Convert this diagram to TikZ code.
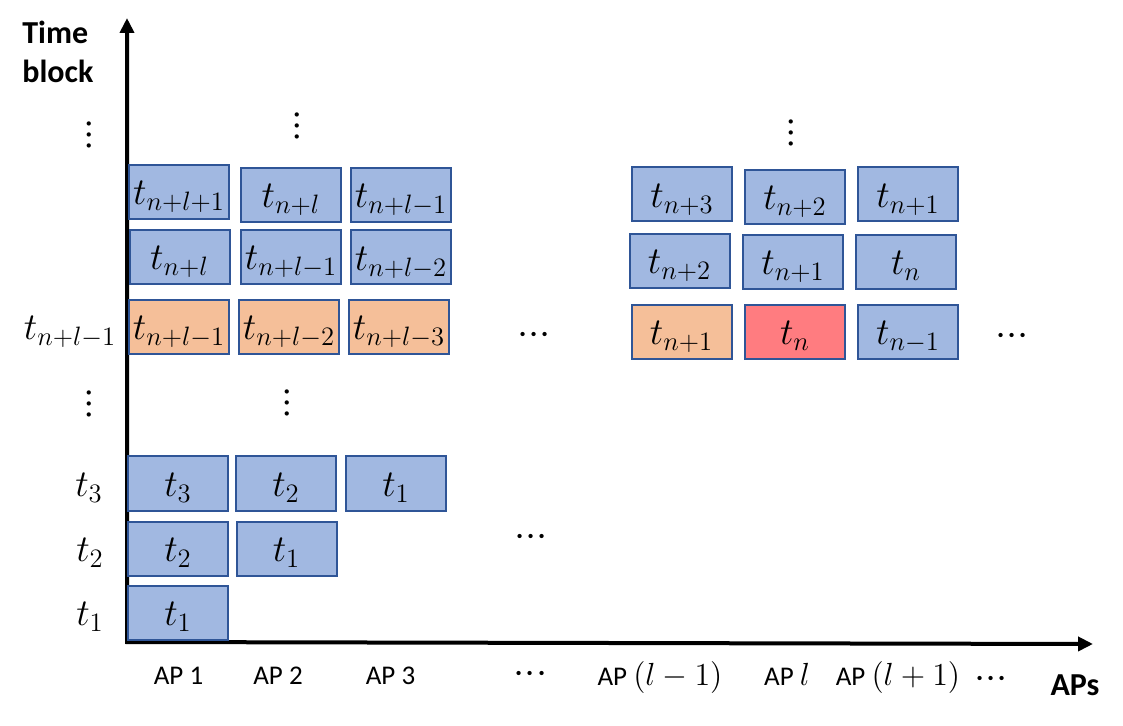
\RequirePackage{fix-cm}
\documentclass[tikz,border=0pt]{standalone}
\usepackage{fontspec}
\setmainfont{Carlito}
\usetikzlibrary{arrows.meta}

\definecolor{slotblue}{RGB}{161,184,225}
\definecolor{slotedge}{RGB}{47,85,151}
\definecolor{slotorange}{RGB}{245,191,153}
\definecolor{slotred}{RGB}{255,124,128}

\newcommand{\threedots}{${\cdot}{\cdot}{\cdot}$}
\newcommand{\apmath}[1]{{\fontsize{16}{18}\selectfont$#1$}}

\begin{document}
\begin{tikzpicture}[x=0.5pt, y=-0.5pt, >={Triangle[length=7.5pt, width=7pt]}]
    % Styles
    \tikzstyle{slot} = [rectangle, draw=slotedge, line width=1pt, fill=slotblue, minimum width=50pt, minimum height=27pt, inner sep=0pt, text height=13pt, text depth=0pt, font=\fontsize{19}{22}\selectfont]
    \tikzstyle{busy} = [slot, fill=slotorange]
    \tikzstyle{current} = [slot, fill=slotred]
    \tikzstyle{tlabel} = [inner sep=0pt, text height=13pt, text depth=0pt, font=\fontsize{19}{22}\selectfont]
    \tikzstyle{ellips} = [inner sep=0pt, font=\fontsize{20}{22}\selectfont]
    \tikzstyle{aplabel} = [anchor=base, inner sep=0pt, font=\fontsize{13.5}{16}\selectfont]
    \tikzstyle{axistitle} = [inner sep=0pt, font=\fontsize{16}{19.5}\selectfont\bfseries, align=left]
    \tikzstyle{axisline} = [draw, line width=2pt, <->]

    \useasboundingbox (0,0) rectangle (1123,726);

    % Axes
    \coordinate (origin) at (127,642);
    \coordinate (ytip) at (127,18);
    \coordinate (xtip) at (1093,644);
    \path [axisline] (ytip) -- (origin) -- (xtip);
    \node [axistitle, anchor=north west] (ytitle) at (22,21) {Time\\block};
    \node [axistitle, anchor=base] (xtitle) at (1075,695) {APs};

    % Time block labels
    \node [ellips, rotate=90] (vdots1) at (90,135) {\threedots};
    \node [tlabel] (lblcur) at (70,327) {$t_{n+l-1}$};
    \node [ellips, rotate=90] (vdots2) at (90,404) {\threedots};
    \node [tlabel] (lbl3) at (89,483.5) {$t_3$};
    \node [tlabel] (lbl2) at (90,548.5) {$t_2$};
    \node [tlabel] (lbl1) at (90,612.5) {$t_1$};

    % First time blocks
    \node [slot] (ap1t1) at (178,612.5) {$t_1$};
    \node [slot] (ap1t2) at (178,548.5) {$t_2$};
    \node [slot] (ap2t2) at (286.5,548.5) {$t_1$};
    \node [slot] (ap1t3) at (178,483.5) {$t_3$};
    \node [slot] (ap2t3) at (286,483.5) {$t_2$};
    \node [slot] (ap3t3) at (396,483.5) {$t_1$};
    \node [ellips, rotate=90] (vdots3) at (288,403) {\threedots};
    \node [ellips] (hdots1) at (531,538) {\threedots};

    % Block t_{n+l-1} and the next two, APs 1 to 3
    \node [busy] (ap1cur) at (179,327) {$t_{n+l-1}$};
    \node [busy] (ap2cur) at (289,327) {$t_{n+l-2}$};
    \node [busy] (ap3cur) at (399,327) {$t_{n+l-3}$};
    \node [slot] (ap1nxt) at (179.5,257) {$t_{n+l}$};
    \node [slot] (ap2nxt) at (291,257) {$t_{n+l-1}$};
    \node [slot] (ap3nxt) at (401,257.5) {$t_{n+l-2}$};
    \node [slot] (ap1top) at (179,192) {$t_{n+l+1}$};
    \node [slot] (ap2top) at (291,195) {$t_{n+l}$};
    \node [slot] (ap3top) at (401,195) {$t_{n+l-1}$};
    \node [ellips, rotate=90] (vdots4) at (298,126) {\threedots};
    \node [ellips] (hdots2) at (534,336) {\threedots};

    % Same blocks, APs l-1 to l+1
    \node [busy] (aplmcur) at (681.5,332) {$t_{n+1}$};
    \node [current] (aplcur) at (795,332) {$t_n$};
    \node [slot] (aplpcur) at (908,332) {$t_{n-1}$};
    \node [slot] (aplmnxt) at (679.5,261) {$t_{n+2}$};
    \node [slot] (aplnxt) at (793,262) {$t_{n+1}$};
    \node [slot] (aplpnxt) at (906,262) {$t_n$};
    \node [slot] (aplmtop) at (682,194.5) {$t_{n+3}$};
    \node [slot] (apltop) at (795,197) {$t_{n+2}$};
    \node [slot] (aplptop) at (908,194.5) {$t_{n+1}$};
    \node [ellips, rotate=90] (vdots5) at (792,133) {\threedots};
    \node [ellips] (hdots3) at (1012,337) {\threedots};

    % AP labels
    \node [aplabel] (ap1) at (178.5,684) {AP 1};
    \node [aplabel] (ap2) at (278,684) {AP 2};
    \node [aplabel] (ap3) at (390.5,684) {AP 3};
    \node [ellips] (hdots4) at (530.5,675) {\threedots};
    \node [aplabel] (aplm) at (660,685) {AP \apmath{(l-1)}};
    \node [aplabel] (apl) at (787,685) {AP \apmath{l}};
    \node [aplabel] (aplp) at (898,685) {AP \apmath{(l+1)}};
    \node [ellips] (hdots5) at (991,680) {\threedots};

\end{tikzpicture}
\end{document}
